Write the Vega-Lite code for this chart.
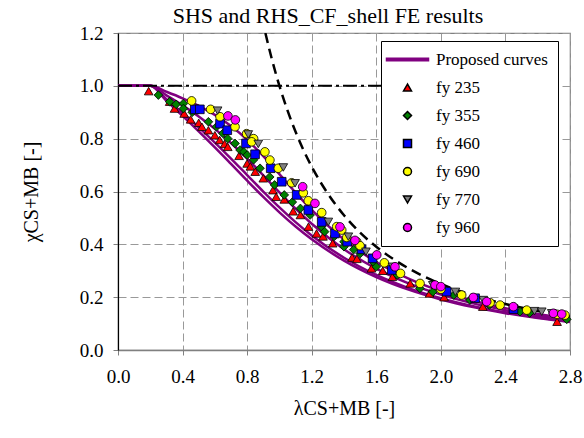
{
  "$schema": "https://vega.github.io/schema/vega-lite/v6.json",
  "width": 452,
  "height": 317,
  "autosize": "none",
  "padding": {"left": 118, "top": 33, "right": 14, "bottom": 88},
  "background": "white",
  "config": {
    "font": "Liberation Serif",
    "view": {"stroke": "#808080", "strokeWidth": 1.2},
    "axis": {
      "labelFont": "Liberation Serif",
      "labelFontSize": 19,
      "labelColor": "black",
      "titleFont": "Liberation Serif",
      "titleFontSize": 20,
      "titleFontWeight": "normal",
      "titleColor": "black",
      "grid": true,
      "gridColor": "#999999",
      "gridDash": [8, 4],
      "gridWidth": 1,
      "tickColor": "#808080",
      "tickSize": 5,
      "tickWidth": 1
    },
    "legend": {
      "title": null,
      "orient": "none",
      "legendX": 263,
      "legendY": 8,
      "fillColor": "white",
      "strokeColor": "black",
      "padding": 10,
      "labelFont": "Liberation Serif",
      "labelFontSize": 17,
      "labelColor": "black",
      "symbolSize": 64,
      "symbolOffset": 8,
      "labelOffset": 20,
      "rowPadding": 10,
      "symbolOpacity": 1
    }
  },
  "title": {
    "text": "SHS and RHS_CF_shell FE results",
    "font": "Liberation Serif",
    "fontSize": 22,
    "fontWeight": "normal",
    "color": "black",
    "frame": "group",
    "anchor": "middle",
    "baseline": "top",
    "offset": 6,
    "dy": 10,
    "dx": -16
  },
  "datasets": {
    "curves": [
      {"a": "0.21", "x": 0, "y": 1}, {"a": "0.21", "x": 0.2, "y": 1}, {"a": "0.21", "x": 0.3, "y": 0.9775}, {"a": "0.21", "x": 0.4, "y": 0.9528}, {"a": "0.21", "x": 0.5, "y": 0.9243}, {"a": "0.21", "x": 0.6, "y": 0.89}, {"a": "0.21", "x": 0.7, "y": 0.8477}, {"a": "0.21", "x": 0.8, "y": 0.7957}, {"a": "0.21", "x": 0.9, "y": 0.7339}, {"a": "0.21", "x": 1.0, "y": 0.6656}, {"a": "0.21", "x": 1.1, "y": 0.596}, {"a": "0.21", "x": 1.2, "y": 0.53}, {"a": "0.21", "x": 1.4, "y": 0.4179}, {"a": "0.21", "x": 1.6, "y": 0.3332}, {"a": "0.21", "x": 1.8, "y": 0.2702}, {"a": "0.21", "x": 2.0, "y": 0.2229}, {"a": "0.21", "x": 2.2, "y": 0.1867}, {"a": "0.21", "x": 2.4, "y": 0.1585}, {"a": "0.21", "x": 2.6, "y": 0.1362}, {"a": "0.21", "x": 2.8, "y": 0.1182},
      {"a": "0.34", "x": 0, "y": 1}, {"a": "0.34", "x": 0.2, "y": 1}, {"a": "0.34", "x": 0.3, "y": 0.9641}, {"a": "0.34", "x": 0.4, "y": 0.9261}, {"a": "0.34", "x": 0.5, "y": 0.8842}, {"a": "0.34", "x": 0.6, "y": 0.8371}, {"a": "0.34", "x": 0.7, "y": 0.7837}, {"a": "0.34", "x": 0.8, "y": 0.7245}, {"a": "0.34", "x": 0.9, "y": 0.6612}, {"a": "0.34", "x": 1.0, "y": 0.597}, {"a": "0.34", "x": 1.1, "y": 0.5352}, {"a": "0.34", "x": 1.2, "y": 0.4781}, {"a": "0.34", "x": 1.4, "y": 0.3817}, {"a": "0.34", "x": 1.6, "y": 0.3079}, {"a": "0.34", "x": 1.8, "y": 0.2521}, {"a": "0.34", "x": 2.0, "y": 0.2095}, {"a": "0.34", "x": 2.2, "y": 0.1765}, {"a": "0.34", "x": 2.4, "y": 0.1506}, {"a": "0.34", "x": 2.6, "y": 0.1299}, {"a": "0.34", "x": 2.8, "y": 0.1132},
      {"a": "0.49", "x": 0, "y": 1}, {"a": "0.49", "x": 0.2, "y": 1}, {"a": "0.49", "x": 0.3, "y": 0.9491}, {"a": "0.49", "x": 0.4, "y": 0.8973}, {"a": "0.49", "x": 0.5, "y": 0.843}, {"a": "0.49", "x": 0.6, "y": 0.7854}, {"a": "0.49", "x": 0.7, "y": 0.7247}, {"a": "0.49", "x": 0.8, "y": 0.6622}, {"a": "0.49", "x": 0.9, "y": 0.5998}, {"a": "0.49", "x": 1.0, "y": 0.5399}, {"a": "0.49", "x": 1.1, "y": 0.4842}, {"a": "0.49", "x": 1.2, "y": 0.4338}, {"a": "0.49", "x": 1.4, "y": 0.3492}, {"a": "0.49", "x": 1.6, "y": 0.2842}, {"a": "0.49", "x": 1.8, "y": 0.2345}, {"a": "0.49", "x": 2.0, "y": 0.1962}, {"a": "0.49", "x": 2.2, "y": 0.1662}, {"a": "0.49", "x": 2.4, "y": 0.1425}, {"a": "0.49", "x": 2.6, "y": 0.1234}, {"a": "0.49", "x": 2.8, "y": 0.1079},
      {"a": "0.55", "x": 0, "y": 1}, {"a": "0.55", "x": 0.2, "y": 1}, {"a": "0.55", "x": 0.3, "y": 0.9433}, {"a": "0.55", "x": 0.4, "y": 0.8864}, {"a": "0.55", "x": 0.5, "y": 0.8278}, {"a": "0.55", "x": 0.6, "y": 0.7669}, {"a": "0.55", "x": 0.7, "y": 0.7043}, {"a": "0.55", "x": 0.8, "y": 0.6412}, {"a": "0.55", "x": 0.9, "y": 0.5795}, {"a": "0.55", "x": 1.0, "y": 0.5211}, {"a": "0.55", "x": 1.1, "y": 0.4674}, {"a": "0.55", "x": 1.2, "y": 0.419}, {"a": "0.55", "x": 1.4, "y": 0.3382}, {"a": "0.55", "x": 1.6, "y": 0.276}, {"a": "0.55", "x": 1.8, "y": 0.2283}, {"a": "0.55", "x": 2.0, "y": 0.1914}, {"a": "0.55", "x": 2.2, "y": 0.1625}, {"a": "0.55", "x": 2.4, "y": 0.1395}, {"a": "0.55", "x": 2.6, "y": 0.121}, {"a": "0.55", "x": 2.8, "y": 0.1059}
    ],
    "plateau": [
      {"x": 0, "y": 1}, {"x": 2.0, "y": 1}
    ],
    "euler": [
      {"x": 0.913, "y": 1.2}, {"x": 0.95, "y": 1.108}, {"x": 1.0, "y": 1.0}, {"x": 1.05, "y": 0.907}, {"x": 1.1, "y": 0.826}, {"x": 1.2, "y": 0.694}, {"x": 1.3, "y": 0.592}, {"x": 1.4, "y": 0.51}, {"x": 1.5, "y": 0.444}, {"x": 1.6, "y": 0.391}, {"x": 1.8, "y": 0.309}, {"x": 2.0, "y": 0.25}, {"x": 2.2, "y": 0.207}, {"x": 2.4, "y": 0.174}, {"x": 2.6, "y": 0.148}, {"x": 2.8, "y": 0.128}
    ],
    "fe": [
      {"s": "fy 235", "x": 0.19, "y": 0.98}, {"s": "fy 235", "x": 0.32, "y": 0.94}, {"s": "fy 235", "x": 0.35, "y": 0.914}, {"s": "fy 235", "x": 0.41, "y": 0.895}, {"s": "fy 235", "x": 0.45, "y": 0.873}, {"s": "fy 235", "x": 0.5, "y": 0.86}, {"s": "fy 235", "x": 0.52, "y": 0.845}, {"s": "fy 235", "x": 0.56, "y": 0.832}, {"s": "fy 235", "x": 0.6, "y": 0.813}, {"s": "fy 235", "x": 0.63, "y": 0.795}, {"s": "fy 235", "x": 0.66, "y": 0.78}, {"s": "fy 235", "x": 0.68, "y": 0.769}, {"s": "fy 235", "x": 0.75, "y": 0.735}, {"s": "fy 235", "x": 0.8, "y": 0.706}, {"s": "fy 235", "x": 0.82, "y": 0.695}, {"s": "fy 235", "x": 0.85, "y": 0.675}, {"s": "fy 235", "x": 0.9, "y": 0.65}, {"s": "fy 235", "x": 0.96, "y": 0.605}, {"s": "fy 235", "x": 0.98, "y": 0.58}, {"s": "fy 235", "x": 1.03, "y": 0.57}, {"s": "fy 235", "x": 1.085, "y": 0.525}, {"s": "fy 235", "x": 1.13, "y": 0.511}, {"s": "fy 235", "x": 1.18, "y": 0.467}, {"s": "fy 235", "x": 1.23, "y": 0.441}, {"s": "fy 235", "x": 1.27, "y": 0.43}, {"s": "fy 235", "x": 1.33, "y": 0.404}, {"s": "fy 235", "x": 1.45, "y": 0.35}, {"s": "fy 235", "x": 1.48, "y": 0.345}, {"s": "fy 235", "x": 1.57, "y": 0.309}, {"s": "fy 235", "x": 1.64, "y": 0.3}, {"s": "fy 235", "x": 1.7, "y": 0.277}, {"s": "fy 235", "x": 1.81, "y": 0.252}, {"s": "fy 235", "x": 1.93, "y": 0.214}, {"s": "fy 235", "x": 2.02, "y": 0.2}, {"s": "fy 235", "x": 2.26, "y": 0.164}, {"s": "fy 235", "x": 2.72, "y": 0.107},
      {"s": "fy 355", "x": 0.25, "y": 0.965}, {"s": "fy 355", "x": 0.32, "y": 0.94}, {"s": "fy 355", "x": 0.36, "y": 0.93}, {"s": "fy 355", "x": 0.405, "y": 0.933}, {"s": "fy 355", "x": 0.405, "y": 0.914}, {"s": "fy 355", "x": 0.46, "y": 0.9}, {"s": "fy 355", "x": 0.56, "y": 0.864}, {"s": "fy 355", "x": 0.61, "y": 0.845}, {"s": "fy 355", "x": 0.65, "y": 0.82}, {"s": "fy 355", "x": 0.68, "y": 0.8}, {"s": "fy 355", "x": 0.725, "y": 0.782}, {"s": "fy 355", "x": 0.756, "y": 0.757}, {"s": "fy 355", "x": 0.78, "y": 0.75}, {"s": "fy 355", "x": 0.8, "y": 0.738}, {"s": "fy 355", "x": 0.84, "y": 0.72}, {"s": "fy 355", "x": 0.88, "y": 0.688}, {"s": "fy 355", "x": 0.94, "y": 0.655}, {"s": "fy 355", "x": 0.97, "y": 0.625}, {"s": "fy 355", "x": 1.03, "y": 0.587}, {"s": "fy 355", "x": 1.08, "y": 0.56}, {"s": "fy 355", "x": 1.13, "y": 0.536}, {"s": "fy 355", "x": 1.19, "y": 0.511}, {"s": "fy 355", "x": 1.26, "y": 0.467}, {"s": "fy 355", "x": 1.28, "y": 0.448}, {"s": "fy 355", "x": 1.34, "y": 0.43}, {"s": "fy 355", "x": 1.4, "y": 0.391}, {"s": "fy 355", "x": 1.4, "y": 0.41}, {"s": "fy 355", "x": 1.46, "y": 0.38}, {"s": "fy 355", "x": 1.5, "y": 0.365}, {"s": "fy 355", "x": 1.58, "y": 0.334}, {"s": "fy 355", "x": 1.6, "y": 0.315}, {"s": "fy 355", "x": 1.73, "y": 0.284}, {"s": "fy 355", "x": 1.87, "y": 0.233}, {"s": "fy 355", "x": 1.95, "y": 0.22}, {"s": "fy 355", "x": 2.08, "y": 0.208}, {"s": "fy 355", "x": 2.18, "y": 0.189}, {"s": "fy 355", "x": 2.3, "y": 0.17}, {"s": "fy 355", "x": 2.49, "y": 0.145}, {"s": "fy 355", "x": 2.55, "y": 0.14}, {"s": "fy 355", "x": 2.78, "y": 0.116},
      {"s": "fy 460", "x": 0.476, "y": 0.911}, {"s": "fy 460", "x": 0.507, "y": 0.911}, {"s": "fy 460", "x": 0.632, "y": 0.857}, {"s": "fy 460", "x": 0.677, "y": 0.832}, {"s": "fy 460", "x": 0.793, "y": 0.782}, {"s": "fy 460", "x": 0.849, "y": 0.741}, {"s": "fy 460", "x": 0.946, "y": 0.688}, {"s": "fy 460", "x": 1.014, "y": 0.637}, {"s": "fy 460", "x": 1.107, "y": 0.587}, {"s": "fy 460", "x": 1.179, "y": 0.53}, {"s": "fy 460", "x": 1.262, "y": 0.485}, {"s": "fy 460", "x": 1.344, "y": 0.441}, {"s": "fy 460", "x": 1.42, "y": 0.41}, {"s": "fy 460", "x": 1.509, "y": 0.381}, {"s": "fy 460", "x": 1.577, "y": 0.347}, {"s": "fy 460", "x": 1.696, "y": 0.303}, {"s": "fy 460", "x": 2.036, "y": 0.221}, {"s": "fy 460", "x": 2.212, "y": 0.196}, {"s": "fy 460", "x": 2.45, "y": 0.155},
      {"s": "fy 690", "x": 0.456, "y": 0.943}, {"s": "fy 690", "x": 0.574, "y": 0.911}, {"s": "fy 690", "x": 0.632, "y": 0.883}, {"s": "fy 690", "x": 0.725, "y": 0.845}, {"s": "fy 690", "x": 0.797, "y": 0.819}, {"s": "fy 690", "x": 0.84, "y": 0.8}, {"s": "fy 690", "x": 0.828, "y": 0.788}, {"s": "fy 690", "x": 0.91, "y": 0.75}, {"s": "fy 690", "x": 0.941, "y": 0.719}, {"s": "fy 690", "x": 0.993, "y": 0.688}, {"s": "fy 690", "x": 1.076, "y": 0.633}, {"s": "fy 690", "x": 1.148, "y": 0.595}, {"s": "fy 690", "x": 1.179, "y": 0.565}, {"s": "fy 690", "x": 1.262, "y": 0.52}, {"s": "fy 690", "x": 1.355, "y": 0.467}, {"s": "fy 690", "x": 1.386, "y": 0.454}, {"s": "fy 690", "x": 1.417, "y": 0.426}, {"s": "fy 690", "x": 1.479, "y": 0.41}, {"s": "fy 690", "x": 1.499, "y": 0.395}, {"s": "fy 690", "x": 1.65, "y": 0.33}, {"s": "fy 690", "x": 1.75, "y": 0.29}, {"s": "fy 690", "x": 1.871, "y": 0.252}, {"s": "fy 690", "x": 2.0, "y": 0.23}, {"s": "fy 690", "x": 2.129, "y": 0.208}, {"s": "fy 690", "x": 2.305, "y": 0.179}, {"s": "fy 690", "x": 2.367, "y": 0.17}, {"s": "fy 690", "x": 2.532, "y": 0.151}, {"s": "fy 690", "x": 2.72, "y": 0.135}, {"s": "fy 690", "x": 2.769, "y": 0.132},
      {"s": "fy 770", "x": 0.617, "y": 0.906}, {"s": "fy 770", "x": 0.807, "y": 0.816}, {"s": "fy 770", "x": 0.869, "y": 0.78}, {"s": "fy 770", "x": 1.024, "y": 0.691}, {"s": "fy 770", "x": 1.097, "y": 0.631}, {"s": "fy 770", "x": 1.303, "y": 0.485}, {"s": "fy 770", "x": 1.427, "y": 0.429}, {"s": "fy 770", "x": 1.536, "y": 0.372}, {"s": "fy 770", "x": 1.7, "y": 0.315}, {"s": "fy 770", "x": 1.95, "y": 0.245}, {"s": "fy 770", "x": 2.09, "y": 0.22}, {"s": "fy 770", "x": 2.263, "y": 0.189}, {"s": "fy 770", "x": 2.58, "y": 0.147}, {"s": "fy 770", "x": 2.625, "y": 0.145}, {"s": "fy 770", "x": 2.687, "y": 0.139},
      {"s": "fy 960", "x": 0.681, "y": 0.886}, {"s": "fy 960", "x": 0.727, "y": 0.871}, {"s": "fy 960", "x": 1.144, "y": 0.618}, {"s": "fy 960", "x": 1.22, "y": 0.555}, {"s": "fy 960", "x": 1.375, "y": 0.466}, {"s": "fy 960", "x": 1.468, "y": 0.415}, {"s": "fy 960", "x": 1.603, "y": 0.36}, {"s": "fy 960", "x": 1.716, "y": 0.315}, {"s": "fy 960", "x": 1.964, "y": 0.246}, {"s": "fy 960", "x": 2.0, "y": 0.24}, {"s": "fy 960", "x": 2.201, "y": 0.199}, {"s": "fy 960", "x": 2.284, "y": 0.183}, {"s": "fy 960", "x": 2.449, "y": 0.164}, {"s": "fy 960", "x": 2.697, "y": 0.139}, {"s": "fy 960", "x": 2.749, "y": 0.136}
    ]
  },
  "encoding": {
    "x": {
      "field": "x", "type": "quantitative",
      "scale": {"domain": [0, 2.8], "nice": false, "zero": false},
      "axis": {
        "values": [0, 0.4, 0.8, 1.2, 1.6, 2.0, 2.4, 2.8],
        "format": ".1f",
        "title": "λCS+MB [-]",
        "titlePadding": 12,
        "labelPadding": 12,
        "domainColor": "#808080",
        "domainWidth": 1.5,
        "labelFlush": false
      }
    },
    "y": {
      "field": "y", "type": "quantitative",
      "scale": {"domain": [0, 1.2], "nice": false, "zero": false},
      "axis": {
        "values": [0, 0.2, 0.4, 0.6, 0.8, 1.0, 1.2],
        "format": ".1f",
        "title": "χCS+MB [-]",
        "titlePadding": 38,
        "labelPadding": 10,
        "domainColor": "black",
        "domainWidth": 1.2,
        "labelFlush": false
      }
    }
  },
  "layer": [
    {
      "data": {"name": "curves"},
      "mark": {"type": "line", "color": "#800080", "strokeWidth": 2.5, "interpolate": "monotone", "clip": true},
      "encoding": {"detail": {"field": "a"}}
    },
    {
      "data": {"name": "plateau"},
      "mark": {"type": "line", "color": "black", "strokeWidth": 2, "strokeDash": [14, 4, 3, 4]},
      "encoding": {}
    },
    {
      "data": {"name": "euler"},
      "mark": {"type": "line", "color": "black", "strokeWidth": 2.5, "strokeDash": [10, 6], "interpolate": "monotone", "clip": true},
      "encoding": {}
    },
    {
      "data": {"name": "fe"},
      "mark": {"type": "point", "filled": true, "opacity": 1, "strokeWidth": 0.8, "size": 75},
      "encoding": {
        "fill": {
          "field": "s", "type": "nominal",
          "scale": {
            "domain": ["Proposed curves", "fy 235", "fy 355", "fy 460", "fy 690", "fy 770", "fy 960"],
            "range": ["#800080", "#FF0000", "#008000", "#0000FF", "#FFFF00", "#808080", "#FF00FF"]
          }
        },
        "stroke": {
          "field": "s", "type": "nominal",
          "scale": {
            "domain": ["Proposed curves", "fy 235", "fy 355", "fy 460", "fy 690", "fy 770", "fy 960"],
            "range": ["#800080", "#000000", "#000000", "#000000", "#000000", "#000000", "#000000"]
          }
        },
        "shape": {
          "field": "s", "type": "nominal",
          "scale": {
            "domain": ["Proposed curves", "fy 235", "fy 355", "fy 460", "fy 690", "fy 770", "fy 960"],
            "range": ["M-5.25,-0.3H5.25V0.3H-5.25Z", "triangle-up", "diamond", "square", "circle", "triangle-down", "circle"]
          }
        }
      }
    }
  ]
}
